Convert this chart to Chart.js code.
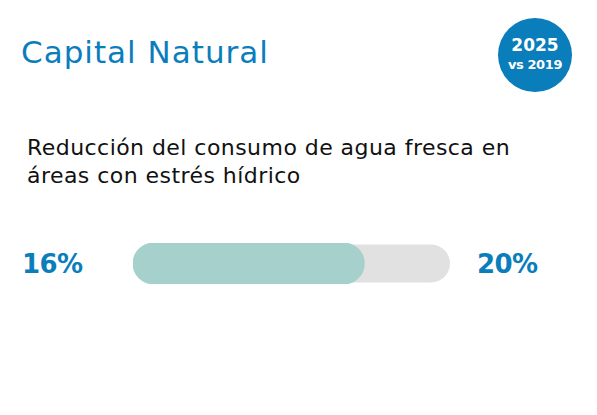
<!DOCTYPE html>
<html>
<head>
<meta charset="utf-8">
<script src="https://cdn.jsdelivr.net/npm/chart.js@4"></script>
<style>
  html, body { margin: 0; padding: 0; background: #fff; }
  body { width: 597px; height: 415px; position: relative; overflow: hidden; font-family: "DejaVu Sans", "Noto Sans", sans-serif; }
  .title { position: absolute; left: 21px; top: 34px; font-size: 31px; color: #0a7dbd; letter-spacing: 1px; }
  .badge { position: absolute; left: 498px; top: 18px; width: 74px; height: 74px; border-radius: 50%; background: #0a7dbb; color: #fff; text-align: center; font-weight: 700; }
  .badge .y { font-size: 17px; margin-top: 16px; line-height: 22px; }
  .badge .v { font-size: 13px; line-height: 18px; letter-spacing: -0.4px; }
  .sub { position: absolute; left: 27px; top: 134px; font-size: 22px; line-height: 28px; color: #111; letter-spacing: 0.45px; }
  .val { position: absolute; top: 249px; font-size: 26px; font-weight: 700; color: #0a7dbb; letter-spacing: -0.6px; }
  #wrap { position: absolute; left: 133px; top: 243px; width: 317px; height: 41px; }
</style>
</head>
<body>
<div class="title" id="title"></div>
<div class="badge"><div class="y" id="yr"></div><div class="v" id="vs"></div></div>
<div class="sub" id="sub"></div>
<div class="val" id="cur" style="left:22px"></div>
<div class="val" id="tgt" style="left:477px"></div>
<div id="wrap"><canvas id="bar"></canvas></div>
<script>
const titleText = "Capital Natural";
const badgeYear = "2025";
const badgeBase = "vs 2019";
const subtitleLines = ["Reducción del consumo de agua fresca en", "áreas con estrés hídrico"];
const currentLabel = "16%";
const targetLabel = "20%";
const categories = ["agua"];
const progressValues = [73];
const trackValues = [100];

document.getElementById("title").textContent = titleText;
document.getElementById("yr").textContent = badgeYear;
document.getElementById("vs").textContent = badgeBase;
document.getElementById("sub").innerHTML = subtitleLines.join("<br>");
document.getElementById("cur").textContent = currentLabel;
document.getElementById("tgt").textContent = targetLabel;

new Chart(document.getElementById("bar"), {
    type: "bar",
    data: {
        labels: categories,
        datasets: [
            {
                data: progressValues,
                backgroundColor: "#a5d0cb",
                borderRadius: 21,
                borderSkipped: false,
                barPercentage: 1,
                categoryPercentage: 1,
                order: 0,
            },
            {
                data: trackValues,
                backgroundColor: "#e1e1e1",
                borderRadius: 20,
                borderSkipped: false,
                barPercentage: 0.93,
                categoryPercentage: 1,
                order: 1,
            },
        ],
    },
    options: {
        indexAxis: "y",
        responsive: true,
        maintainAspectRatio: false,
        animation: false,
        layout: { padding: 0 },
        plugins: { legend: { display: false }, tooltip: { enabled: false } },
        scales: {
            x: { display: false, min: 0, max: 100 },
            y: { display: false, stacked: true },
        },
    },
});
</script>
</body>
</html>
